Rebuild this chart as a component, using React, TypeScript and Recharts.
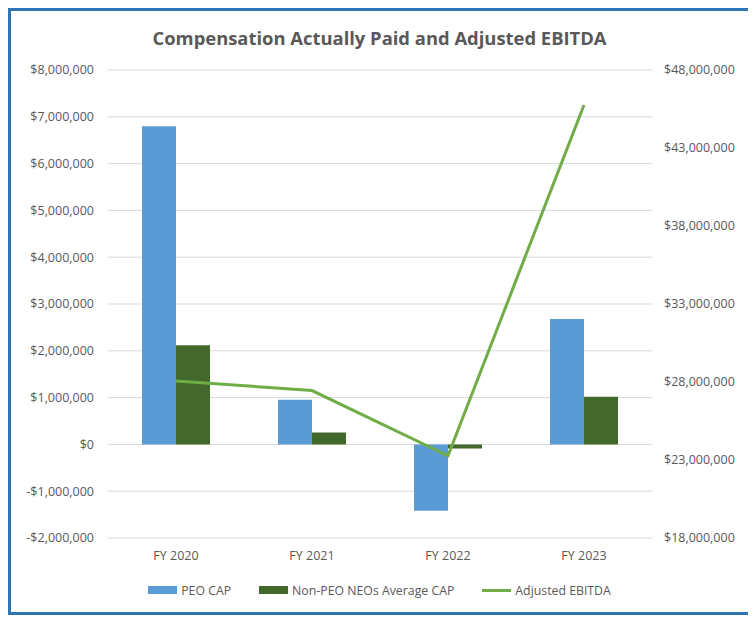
import { ComposedChart, Bar, Line, XAxis, YAxis, CartesianGrid, Legend } from 'recharts'

// values
const years = ['FY 2020', 'FY 2021', 'FY 2022', 'FY 2023']
const peoCap = [6800000, 955000, -1420000, 2680000]
const nonPeoCap = [2120000, 255000, -90000, 1020000]
const adjEbitda = [28070000, 27450000, 23270000, 45760000]

const leftTicks = [-2000000, -1000000, 0, 1000000, 2000000, 3000000, 4000000, 5000000, 6000000, 7000000, 8000000]
const rightTicks = [18000000, 23000000, 28000000, 33000000, 38000000, 43000000, 48000000]

const BLUE = '#5B9BD5'
const DARK_GREEN = '#43682B'
const LIGHT_GREEN = '#70AD47'
const GREY = '#595959'
const FONT = '"Open Sans", "Noto Sans", sans-serif'

const data = years.map((year, i) => ({
  year,
  peo: peoCap[i],
  nonPeo: nonPeoCap[i],
  ebitda: adjEbitda[i],
}))

const money = (v: number) =>
  (v < 0 ? '-$' : '$') + Math.abs(v).toLocaleString('en-US')

const legendItems = [
  { label: 'PEO CAP', color: BLUE, kind: 'bar' },
  { label: 'Non-PEO NEOs Average CAP', color: DARK_GREEN, kind: 'bar' },
  { label: 'Adjusted EBITDA', color: LIGHT_GREEN, kind: 'line' },
]

function ChartLegend() {
  return (
    <div
      style={{
        display: 'flex',
        justifyContent: 'center',
        alignItems: 'center',
        gap: 28,
        height: 20,
        fontFamily: FONT,
        fontSize: 12.3,
        color: GREY,
      }}
    >
      {legendItems.map((it) => (
        <div key={it.label} style={{ display: 'flex', alignItems: 'center', gap: 4 }}>
          <div
            style={{
              width: 29,
              height: it.kind === 'bar' ? 8 : 3,
              background: it.color,
            }}
          />
          <span>{it.label}</span>
        </div>
      ))}
    </div>
  )
}

export default function App() {
  const tick = { fill: GREY, fontSize: 12.5, fontFamily: FONT }
  return (
    <div
      style={{
        position: 'relative',
        width: 737,
        height: 601,
        border: '3px solid #2E75B6',
        background: '#fff',
      }}
    >
      <div
        style={{
          position: 'absolute',
          top: 16,
          left: 0,
          width: '100%',
          textAlign: 'center',
          fontFamily: FONT,
          fontWeight: 700,
          fontSize: 18.4,
          lineHeight: '22px',
          color: GREY,
        }}
      >
        Compensation Actually Paid and Adjusted EBITDA
      </div>
      <ComposedChart
        width={737}
        height={601}
        data={data}
        margin={{ top: 59, right: 5, bottom: 24, left: 5 }}
        barCategoryGap="25%"
        barGap={0}
      >
        <CartesianGrid yAxisId="left" vertical={false} stroke="#D9D9D9" />
        <XAxis
          dataKey="year"
          axisLine={false}
          tickLine={false}
          tickMargin={7}
          height={30}
          tick={tick}
        />
        <YAxis
          yAxisId="left"
          width={92}
          domain={[-2000000, 8000000]}
          ticks={leftTicks}
          tickFormatter={money}
          axisLine={false}
          tickLine={false}
          tickMargin={8}
          tick={tick}
        />
        <YAxis
          yAxisId="right"
          orientation="right"
          width={91}
          domain={[18000000, 48000000]}
          ticks={rightTicks}
          tickFormatter={money}
          axisLine={false}
          tickLine={false}
          tickMargin={6}
          tick={tick}
        />
        <Legend
          verticalAlign="bottom"
          content={() => <ChartLegend />}
          wrapperStyle={{ top: 569, bottom: 'auto' }}
        />
        <Bar yAxisId="left" dataKey="peo" name="PEO CAP" fill={BLUE} isAnimationActive={false} />
        <Bar yAxisId="left" dataKey="nonPeo" name="Non-PEO NEOs Average CAP" fill={DARK_GREEN} isAnimationActive={false} />
        <Line
          yAxisId="right"
          type="linear"
          dataKey="ebitda"
          name="Adjusted EBITDA"
          stroke={LIGHT_GREEN}
          strokeWidth={3}
          dot={false}
          isAnimationActive={false}
        />
      </ComposedChart>
    </div>
  )
}
